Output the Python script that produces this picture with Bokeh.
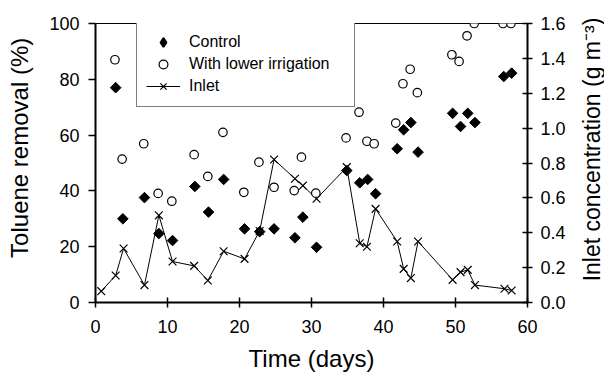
from bokeh.plotting import figure
from bokeh.models import Range1d, LinearAxis, Legend, LegendItem, FixedTicker, NumeralTickFormatter, Label
from bokeh.embed import file_html
from bokeh.resources import INLINE
import math

# Control (toluene removal %)
ctrl_day = [2.8, 3.8, 6.8, 8.8, 10.7, 13.8, 15.7, 17.8, 20.7, 22.8, 24.8, 27.7, 28.8, 30.7,
            34.9, 36.7, 37.8, 38.9, 41.9, 42.8, 43.8, 44.8, 49.6, 50.7, 51.7, 52.7, 56.7, 57.8]
ctrl_val = [77, 30, 37.6, 24.7, 22.2, 41.6, 32.4, 44.1, 26.4, 25.4, 26.4, 23.2, 30.6, 19.8,
            47.3, 42.9, 44.1, 39.0, 55.1, 61.9, 64.5, 53.9, 67.8, 63.1, 67.8, 64.5, 81.0, 82.2]

# With lower irrigation (toluene removal %)
irr_day = [2.7, 3.7, 6.7, 8.7, 10.6, 13.7, 15.6, 17.7, 20.6, 22.7, 24.8, 27.6, 28.6, 30.6,
           34.8, 36.6, 37.7, 38.7, 41.7, 42.7, 43.7, 44.7, 49.5, 50.5, 51.6, 52.6, 56.6, 57.7]
irr_val = [87, 51.4, 56.9, 39.1, 36.3, 53, 45.2, 61, 39.5, 50.3, 41.3, 40.1, 52.1, 39.2,
           59, 68.2, 57.8, 56.9, 64.3, 78.4, 83.6, 75.2, 88.8, 86.4, 95.6, 100, 100, 100]

# Inlet concentration (g m-3)
inlet_day = [0.8, 2.8, 3.9, 6.8, 8.8, 10.7, 13.7, 15.6, 17.8, 20.7, 22.8, 24.8, 27.7, 28.8,
             30.7, 34.9, 36.7, 37.7, 38.9, 41.9, 42.8, 43.8, 44.8, 49.6, 50.7, 51.7, 52.7,
             56.8, 57.8]
inlet_val = [0.065, 0.155, 0.31, 0.10, 0.50, 0.235, 0.21, 0.126, 0.294, 0.25, 0.41, 0.82,
             0.71, 0.67, 0.595, 0.776, 0.34, 0.32, 0.537, 0.35, 0.193, 0.14, 0.35, 0.13,
             0.174, 0.187, 0.10, 0.079, 0.069]

x_ticks = [0, 10, 20, 30, 40, 50, 60]
left_ticks = [0, 20, 40, 60, 80, 100]
right_ticks = [0.0, 0.2, 0.4, 0.6, 0.8, 1.0, 1.2, 1.4, 1.6]

FONT = "Liberation Sans"

p = figure(width=604, height=375, output_backend="svg", toolbar_location=None,
           x_range=Range1d(0, 60), y_range=Range1d(0, 100),
           min_border_left=95, min_border_right=77, min_border_top=23, min_border_bottom=73)
p.extra_y_ranges = {"conc": Range1d(0, 1.6)}
p.xgrid.visible = False
p.ygrid.visible = False
p.outline_line_color = "black"
p.outline_line_width = 1
p.background_fill_color = "white"
p.border_fill_color = "white"

# axes styling
xa = p.xaxis[0]
xa.ticker = FixedTicker(ticks=x_ticks)
xa.axis_label = "Time (days)"
xa.major_tick_in = 5
xa.major_tick_out = 5
xa.major_label_standoff = 12

ya = p.yaxis[0]
ya.ticker = FixedTicker(ticks=left_ticks)
ya.major_tick_in = 0
ya.major_tick_out = 7
ya.major_label_standoff = 9

ra = LinearAxis(y_range_name="conc", ticker=FixedTicker(ticks=right_ticks),
                formatter=NumeralTickFormatter(format="0.0"))
ra.major_tick_in = 5
ra.major_tick_out = 5
ra.major_label_standoff = 8
p.add_layout(ra, "right")

for ax in [xa, ya, ra]:
    ax.axis_line_width = 2
    ax.axis_line_color = "black"
    ax.major_tick_line_width = 1.5
    ax.major_tick_line_color = "black"
    ax.minor_tick_line_color = None
    ax.major_label_text_font = FONT
    ax.major_label_text_font_size = "18px"
    ax.major_label_text_color = "black"
    ax.axis_label_text_font = FONT
    ax.axis_label_text_font_size = "24px"
    ax.axis_label_text_font_style = "normal"
    ax.axis_label_text_color = "black"

xa.axis_label_standoff = 9

# axis titles for the two y axes, both reading bottom-to-top (placed in side panels)
left_title = Label(x=0, y=158, x_units="screen", y_units="screen",
                   text="Toluene removal  (%)", angle=math.pi / 2,
                   text_align="center", text_baseline="middle",
                   text_font=FONT, text_font_size="24px", text_color="black")
p.add_layout(left_title, "left")

right_title = Label(x=23, y=153, x_units="screen", y_units="screen",
                    text="Inlet concentration (g m\u207b\u00b3)", angle=math.pi / 2,
                    text_align="center", text_baseline="middle",
                    text_font=FONT, text_font_size="23px", text_color="black")
p.add_layout(right_title, "right")

# glyphs
inl_line = p.line(inlet_day, inlet_val, y_range_name="conc", line_color="black", line_width=1)
inl_pts = p.scatter(inlet_day, inlet_val, y_range_name="conc", marker="x", size=11,
                    line_color="black", line_width=1.2)
ctrl = p.scatter(ctrl_day, ctrl_val, marker="square", angle=45, angle_units="deg", size=7.5,
                 fill_color="black", line_color="black")
irr = p.scatter(irr_day, irr_val, marker="circle", size=8.5, fill_color="white",
                line_color="black", line_width=1.2)
# legend-only glyph (not drawn in the plot) so the legend swatch shows a diamond
ctrl_key = p.scatter(x=[float("nan")], y=[float("nan")], marker="diamond",
                     fill_color="black", line_color="black", line_width=2)

legend = Legend(items=[
    LegendItem(label="Control", renderers=[ctrl_key]),
    LegendItem(label="With lower irrigation", renderers=[irr]),
    LegendItem(label="Inlet", renderers=[inl_line, inl_pts]),
], location=(41, 195))
legend.padding = 9
legend.spacing = 0
legend.margin = 0
legend.glyph_width = 34
legend.glyph_height = 22
legend.label_height = 22
legend.label_width = 156
legend.label_standoff = 9
legend.label_text_font = FONT
legend.label_text_font_size = "16px"
legend.label_text_color = "black"
legend.border_line_color = "black"
legend.border_line_width = 1.5
legend.background_fill_color = "white"
legend.background_fill_alpha = 1
p.add_layout(legend)

open("out.html", "w").write(file_html(p, INLINE))
